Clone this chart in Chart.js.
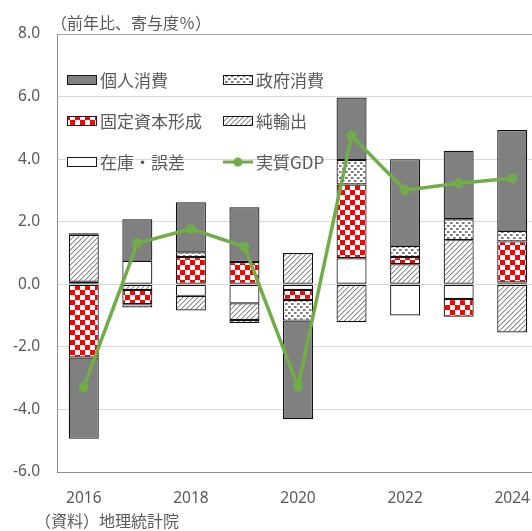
<!DOCTYPE html>
<html lang="ja">
<head>
<meta charset="utf-8">
<script src="https://cdn.jsdelivr.net/npm/chart.js@4.4.1/dist/chart.umd.min.js"></script>
<style>
  body { margin: 0; overflow: hidden; background: #fff; }
  #wrap { position: relative; width: 545px; height: 531px; }
  canvas { display: block; }
</style>
</head>
<body>
<div id="wrap"><canvas id="chart" width="545" height="531"></canvas></div>
<script>
const years = ['2016', '2017', '2018', '2019', '2020', '2021', '2022', '2023', '2024'];

// contributions to growth (percentage points)
const personalConsumption = [-2.60, 1.33, 1.60, 1.75, -3.15, 2.00, 2.77, 2.19, 3.22];
const governmentConsumption = [0.05, -0.10, 0.15, -0.10, -0.66, 0.78, 0.36, 0.67, 0.34];
const fixedCapital = [-2.34, -0.46, 0.87, 0.71, -0.32, 2.36, 0.23, -0.57, 1.31];
const netExports = [1.50, -0.18, -0.47, -0.53, 1.00, -1.21, 0.64, 1.41, -1.54];
const inventories = [0.08, 0.75, -0.37, -0.61, -0.18, 0.83, -1.00, -0.47, 0.06];
const realGdp = [-3.29, 1.31, 1.77, 1.20, -3.27, 4.75, 3.01, 3.23, 3.39];

const yTicks = [-6, -4, -2, 0, 2, 4, 6, 8];

const GREEN = '#70AD47';
const TEXT = '#595959';
const JP_FONT = '"Noto Sans CJK JP", "Noto Sans", sans-serif';
const NUM_FONT = '"Noto Sans", "DejaVu Sans", sans-serif';

const canvas = document.getElementById('chart');
const ctx = canvas.getContext('2d');

function makePattern(size, drawTile) {
  const c = document.createElement('canvas');
  c.width = size;
  c.height = size;
  const g = c.getContext('2d');
  g.fillStyle = '#fff';
  g.fillRect(0, 0, size, size);
  drawTile(g);
  return ctx.createPattern(c, 'repeat');
}

const checker = makePattern(10, g => {
  g.fillStyle = '#ff0000';
  g.fillRect(0, 0, 5, 5);
  g.fillRect(5, 5, 5, 5);
});

const dots = makePattern(6, g => {
  g.fillStyle = '#7a7a7a';
  g.fillRect(0, 0, 2, 2);
  g.fillRect(3, 3, 2, 2);
  g.fillStyle = '#b8b8b8';
  g.fillRect(2, 0, 1, 2);
  g.fillRect(5, 3, 1, 2);
});

const hatch = makePattern(5, g => {
  for (let i = 0; i < 5; i++) {
    g.fillStyle = '#8a8a8a';
    g.fillRect(i, 4 - i, 1, 1);
    g.fillStyle = '#cfcfcf';
    g.fillRect(i, (5 - i) % 5, 1, 1);
  }
});

function barSet(label, data, fill) {
  return {
    type: 'bar',
    label: label,
    data: data,
    backgroundColor: fill,
    borderColor: '#111111',
    borderWidth: 1.2,
    borderSkipped: false,
    stack: 'gdp',
    order: 1
  };
}

// legend drawn inside the plot, two columns like the original
const legendItems = [
  { label: '個人消費', fill: '#808080', x: 67, y: 80 },
  { label: '政府消費', fill: dots, x: 223, y: 80 },
  { label: '固定資本形成', fill: checker, x: 67, y: 121 },
  { label: '純輸出', fill: hatch, x: 223, y: 121 },
  { label: '在庫・誤差', fill: '#fff', x: 67, y: 162 },
  { label: '実質GDP', line: true, x: 223, y: 162 }
];

const extras = {
  id: 'extras',
  afterDraw(chart) {
    const c = chart.ctx;
    c.save();
    c.textBaseline = 'middle';
    c.fillStyle = TEXT;
    c.font = '16px ' + JP_FONT;
    c.fillText('（前年比、寄与度％）', 51, 23);
    c.fillText('（資料）地理統計院', 35, 521);

    c.font = '17px ' + JP_FONT;
    legendItems.forEach(item => {
      if (item.line) {
        c.strokeStyle = GREEN;
        c.lineWidth = 3;
        c.beginPath();
        c.moveTo(item.x, item.y);
        c.lineTo(item.x + 30, item.y);
        c.stroke();
        c.fillStyle = GREEN;
        c.beginPath();
        c.arc(item.x + 15, item.y, 4.5, 0, Math.PI * 2);
        c.fill();
      } else {
        c.fillStyle = item.fill;
        c.fillRect(item.x, item.y - 5, 30, 10);
        c.strokeStyle = '#1a1a1a';
        c.lineWidth = 1;
        c.strokeRect(item.x + 0.5, item.y - 4.5, 29, 9);
      }
      c.fillStyle = TEXT;
      c.fillText(item.label, item.x + 33, item.y + 1);
    });
    c.restore();
  }
};

new Chart(canvas, {
  data: {
    labels: years,
    datasets: [
      {
        type: 'line',
        label: '実質GDP',
        data: realGdp,
        borderColor: GREEN,
        backgroundColor: GREEN,
        borderWidth: 3.5,
        pointRadius: 5,
        pointBackgroundColor: GREEN,
        pointBorderWidth: 0,
        stack: 'line',
        order: -1
      },
      // stacking goes outward from zero in this order
      barSet('在庫・誤差', inventories, '#ffffff'),
      barSet('純輸出', netExports, hatch),
      barSet('固定資本形成', fixedCapital, checker),
      barSet('政府消費', governmentConsumption, dots),
      barSet('個人消費', personalConsumption, '#808080')
    ]
  },
  options: {
    responsive: false,
    animation: false,
    layout: { padding: { top: 34, right: 6, bottom: 24, left: 0 } },
    plugins: {
      legend: { display: false },
      tooltip: { enabled: false }
    },
    datasets: {
      bar: { categoryPercentage: 1, barPercentage: 0.56 }
    },
    scales: {
      x: {
        stacked: true,
        grid: { display: false },
        border: { display: true, color: '#8c8c8c', width: 1 },
        ticks: {
          autoSkip: false,
          maxRotation: 0,
          padding: 9,
          color: TEXT,
          font: { family: NUM_FONT, size: 15.5 },
          callback: function (val, idx) {
            return idx % 2 === 0 ? this.getLabelForValue(val) : '';
          }
        },
        afterFit(scale) { scale.height = 35; }
      },
      y: {
        stacked: true,
        min: -6,
        max: 8,
        afterBuildTicks(scale) {
          scale.ticks = yTicks.map(v => ({ value: v }));
        },
        grid: {
          drawTicks: false,
          color: c => (c.tick && c.tick.value === 8 ? '#a6a6a6' : '#d9d9d9'),
          lineWidth: 1
        },
        border: { display: true, color: '#8c8c8c', width: 1 },
        ticks: {
          padding: 17,
          color: TEXT,
          font: { family: NUM_FONT, size: 15.5 },
          callback: v => v.toFixed(1)
        },
        afterFit(scale) { scale.width = 57; }
      }
    }
  },
  plugins: [extras]
});
</script>
</body>
</html>
